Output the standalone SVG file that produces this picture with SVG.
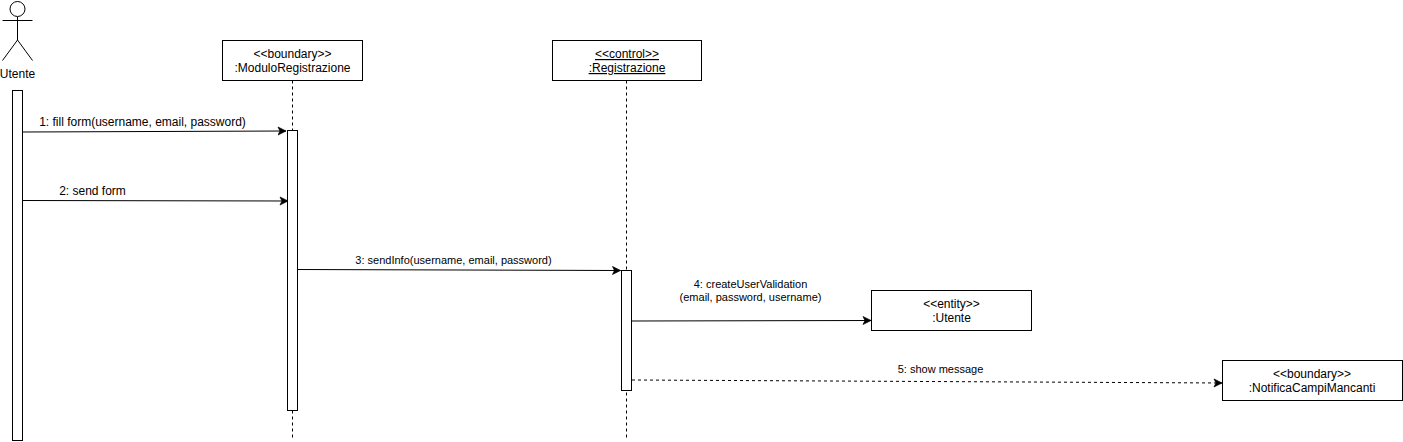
<svg xmlns="http://www.w3.org/2000/svg" width="1403" height="442" viewBox="0 0 1403 442">
<defs>
<style>
text{font-family:"Liberation Sans",Arial,sans-serif;font-size:12px;fill:#000;text-anchor:middle}
.m{font-size:11px}
.l{font-size:12px}
.box{fill:#fff;stroke:#000;stroke-width:1}
.line{fill:none;stroke:#000;stroke-width:1}
.life{fill:none;stroke:#000;stroke-width:1;stroke-dasharray:3 3}
.msg{fill:none;stroke:#000;stroke-width:1;marker-end:url(#arr)}
.dash{stroke-dasharray:3 3}
</style>
<marker id="arr" markerUnits="userSpaceOnUse" markerWidth="10" markerHeight="10" refX="8.500" refY="5" orient="auto">
<path d="M0.500 1L8.500 5L0.500 9L2.500 5Z" fill="#000" stroke="#000" stroke-width="0.700"/>
</marker>
</defs>
<rect width="1403" height="442" fill="#fff"/>
<g id="lifelines">
<path class="life" d="M292.500 80.500V438"/>
<path class="life" d="M626.500 80.500V438"/>
</g>
<g id="actor-utente">
<circle class="line" cx="17.500" cy="9" r="7.500"/>
<path class="line" d="M17.500 17V40M2.500 20.500H32.500M17.500 40L2.500 60.500M17.500 40L32.500 60.500"/>
<text x="17.500" y="78">Utente</text>
<rect class="box" x="12.500" y="90.500" width="10" height="350"/>
</g>
<g id="node-modulo">
<rect class="box" x="222.500" y="40.500" width="140" height="40"/>
<text x="292.500" y="58">&lt;&lt;boundary&gt;&gt;</text>
<text x="292.500" y="72">:ModuloRegistrazione</text>
<rect class="box" x="287.500" y="130.500" width="10" height="280"/>
</g>
<g id="node-registrazione">
<rect class="box" x="552.500" y="40.500" width="149" height="40"/>
<text x="627" y="58" text-decoration="underline">&lt;&lt;control&gt;&gt;</text>
<text x="627" y="72" text-decoration="underline">:Registrazione</text>
<rect class="box" x="621.500" y="270.500" width="10" height="120"/>
</g>
<g id="node-utente">
<rect class="box" x="871.500" y="290.500" width="160" height="40"/>
<text x="951.500" y="308">&lt;&lt;entity&gt;&gt;</text>
<text x="951.500" y="322">:Utente</text>
</g>
<g id="node-notifica">
<rect class="box" x="1222.500" y="360.500" width="180" height="40"/>
<text x="1312" y="378">&lt;&lt;boundary&gt;&gt;</text>
<text x="1312" y="392">:NotificaCampiMancanti</text>
</g>
<g id="connectors">
<path class="msg" d="M22.500 132L286 131"/>
<path class="msg" d="M22.500 200.500L288 201"/>
<path class="msg" d="M297.500 269.500L620.500 270.500"/>
<path class="msg" d="M632 321L871 320.500"/>
<path class="msg dash" d="M632 380L1222 383"/>
</g>
<g id="labels">
<text x="142.500" y="126">1: fill form(username, email, password)</text>
<text x="92.500" y="195">2: send form</text>
<text class="m" x="453.500" y="264">3: sendInfo(username, email, password)</text>
<text class="m" x="750.500" y="288">4: createUserValidation</text>
<text class="m" x="750.500" y="301">(email, password, username)</text>
<text class="m" x="940.500" y="373">5: show message</text>
</g>
</svg>
